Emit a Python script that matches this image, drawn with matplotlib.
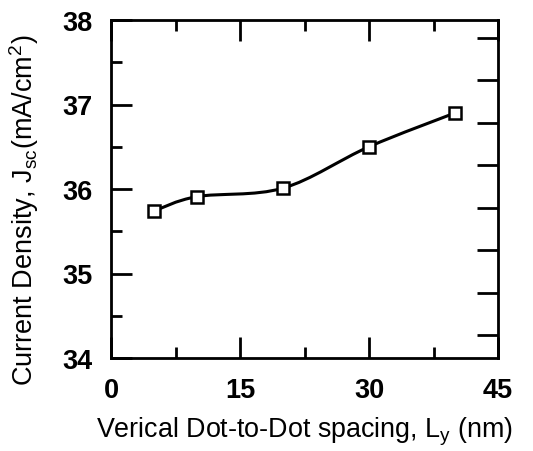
import numpy as np
import matplotlib.pyplot as plt
from matplotlib.path import Path
from matplotlib.patches import PathPatch

plt.rcParams['font.family'] = ['Liberation Sans', 'DejaVu Sans']
plt.rcParams['mathtext.fontset'] = 'custom'
plt.rcParams['mathtext.rm'] = 'Liberation Sans'
plt.rcParams['mathtext.it'] = 'Liberation Sans'

spacing = [5, 10, 20, 30, 40]          # L_y (nm)
jsc = [35.74, 35.91, 36.01, 36.50, 36.90]  # mA/cm^2

fig = plt.figure(figsize=(5.33, 4.52), dpi=100)
ax = fig.add_axes([111/533, 1-359/452, (498-111)/533, (359-21)/452])

# smooth line through the points (Catmull-Rom as cubic Bezier)
x = np.array(spacing, float)
y = np.array(jsc, float)
verts = [(x[0], y[0])]
codes = [Path.MOVETO]
for i in range(len(x)-1):
    p0 = np.array([x[max(i-1, 0)], y[max(i-1, 0)]])
    p1 = np.array([x[i], y[i]])
    p2 = np.array([x[i+1], y[i+1]])
    p3 = np.array([x[min(i+2, len(x)-1)], y[min(i+2, len(x)-1)]])
    c1 = p1 + (p2 - p0)/6
    c2 = p2 - (p3 - p1)/6
    verts += [tuple(c1), tuple(c2), tuple(p2)]
    codes += [Path.CURVE4]*3
ax.add_patch(PathPatch(Path(verts, codes), fill=False, lw=2.2, color='black', zorder=2))
ax.plot(spacing, jsc, ls='none', marker='s', ms=8, mfc='white', mec='black', mew=1.8, zorder=3)

ax.set_xlim(0, 45)
ax.set_ylim(34, 38)
ax.set_xticks([0, 15, 30, 45])
ax.set_xticks([7.5, 22.5, 37.5], minor=True)
ax.set_yticks([34, 35, 36, 37, 38])
ax.set_yticks([34.5, 35.5, 36.5, 37.5], minor=True)
for s in ax.spines.values():
    s.set_linewidth(2)
ax.tick_params(axis='x', which='both', direction='in', top=True, bottom=True, width=2)
ax.tick_params(axis='y', which='both', direction='in', left=True, right=False, width=2)
ax.tick_params(which='major', length=15)
ax.tick_params(which='minor', length=8)
ax.tick_params(axis='y', which='major', pad=13)
ax.tick_params(axis='x', which='major', pad=14)
for lab in ax.get_xticklabels() + ax.get_yticklabels():
    lab.set_fontweight('bold')
    lab.set_fontsize(19.5)

ax2 = ax.twinx()
ax2.set_ylim(0, 1)
ax2.set_yticks([0.068 + 0.1257*k for k in range(8)])
ax2.set_yticklabels([])
ax2.tick_params(axis='y', direction='in', length=15, width=2)

ax.set_xlabel('Verical Dot-to-Dot spacing, L$_\\mathregular{y}$ (nm)', fontsize=19.4, labelpad=8)
ax.set_ylabel('Current Density, J$_\\mathregular{sc}$(mA/cm$^\\mathregular{2}$)', fontsize=19.5)
ax.yaxis.set_label_coords(-0.18, 0.44)

fig.savefig('out.png', dpi=100)
